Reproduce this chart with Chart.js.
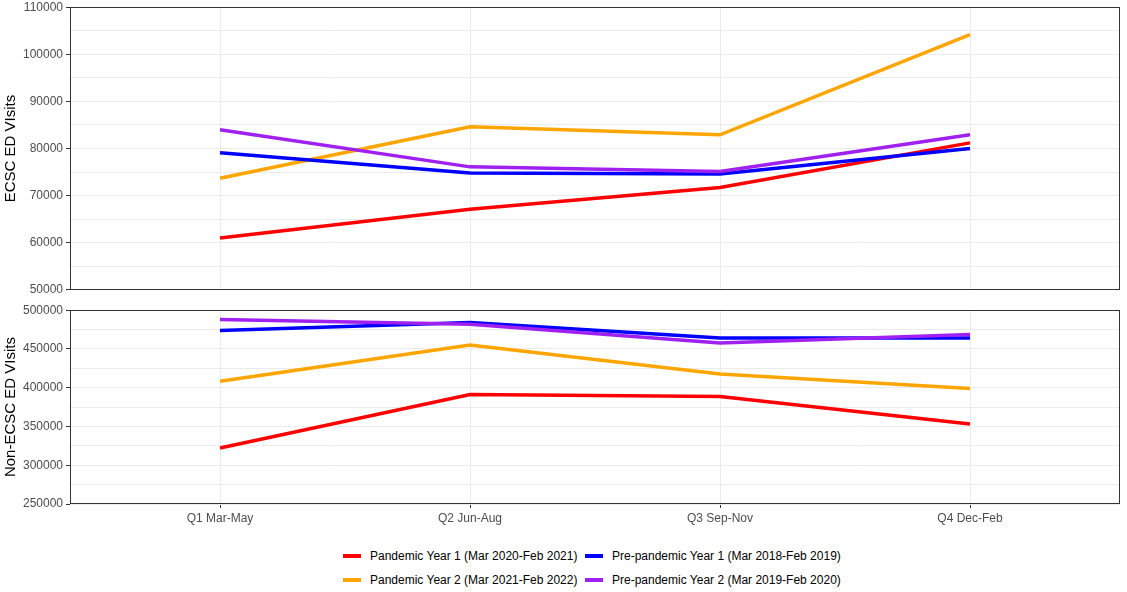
<!DOCTYPE html>
<html>
<head>
<meta charset="utf-8">
<script src="https://cdn.jsdelivr.net/npm/chart.js@4"></script>
<style>
  body { margin: 0; background: #fff; font-family: "Liberation Sans", Arial, sans-serif; }
  #wrap { position: relative; width: 1127px; height: 592px; overflow: hidden; }
  canvas { position: absolute; left: 0; }
  .leg { position: absolute; font-size: 12px; color: #000; white-space: nowrap; line-height: 14px; }
  .leg span.sw { display: inline-block; width: 18px; height: 4px; vertical-align: middle; margin-right: 9px; position: relative; top: -1px; }
</style>
</head>
<body>
<div id="wrap">
  <canvas id="top-chart" width="1127" height="303" style="top:-3px"></canvas>
  <canvas id="bottom-chart" width="1127" height="240" style="top:300px"></canvas>
  <div id="legend"></div>
</div>
<script>
// 季度标签
const quarters = ['Q1 Mar-May', 'Q2 Jun-Aug', 'Q3 Sep-Nov', 'Q4 Dec-Feb'];
const seriesNames = [
  'Pandemic Year 1 (Mar 2020-Feb 2021)',
  'Pandemic Year 2 (Mar 2021-Feb 2022)',
  'Pre-pandemic Year 1 (Mar 2018-Feb 2019)',
  'Pre-pandemic Year 2 (Mar 2019-Feb 2020)'
];
const seriesColors = ['#ff0000', '#ffa500', '#0000ff', '#a020f0'];

// ECSC ED visits
const ecscPandemic1 = [61000, 67100, 71700, 81200];
const ecscPandemic2 = [73700, 84600, 82900, 104200];
const ecscPre1 = [79100, 74800, 74600, 80000];
const ecscPre2 = [84000, 76100, 75100, 82900];

// Non-ECSC ED visits
const nonPandemic1 = [322300, 391200, 388700, 353100];
const nonPandemic2 = [408300, 455000, 417800, 398900];
const nonPre1 = [473800, 484100, 464000, 464000];
const nonPre2 = [487900, 482000, 457600, 468700];

const topTicks = [50000, 60000, 70000, 80000, 90000, 100000, 110000];
const bottomTicks = [250000, 300000, 350000, 400000, 450000, 500000];

// 面板边框
const panelBorder = {
  id: 'panelBorder',
  afterDraw(chart) {
    const a = chart.chartArea;
    const ctx = chart.ctx;
    ctx.save();
    ctx.strokeStyle = '#333333';
    ctx.lineWidth = 1;
    ctx.strokeRect(Math.round(a.left) + 0.5, Math.round(a.top) + 0.5,
      Math.round(a.right - a.left) - 1, Math.round(a.bottom - a.top) - 1);
    ctx.restore();
  }
};

function makeDatasets(groups) {
  // 紫色画在最上面 -> 放在数组最前
  const order = [3, 2, 1, 0];
  return order.map(i => ({
    label: seriesNames[i],
    data: groups[i].map((v, k) => ({ x: k, y: v })),
    borderColor: seriesColors[i],
    backgroundColor: seriesColors[i],
    borderWidth: 3.5,
    pointRadius: 0,
    tension: 0,
    fill: false
  }));
}

function makeOptions(cfg) {
  return {
    responsive: false,
    animation: false,
    layout: { padding: cfg.padding },
    plugins: { legend: { display: false }, tooltip: { enabled: false } },
    scales: {
      x: {
        type: 'linear',
        min: -0.6,
        max: 3.6,
        afterBuildTicks: s => { s.ticks = quarters.map((q, i) => ({ value: i })); },
        afterFit: s => { s.height = cfg.xHeight; },
        border: { display: false },
        grid: {
          color: '#ebebeb',
          lineWidth: 1,
          drawTicks: cfg.showX,
          tickLength: 4,
          tickColor: '#333333'
        },
        ticks: {
          display: cfg.showX,
          padding: 3,
          color: '#4d4d4d',
          font: { family: '"Liberation Sans", Arial, sans-serif', size: 12 },
          maxRotation: 0,
          callback: v => quarters[v]
        }
      },
      y: {
        min: cfg.min,
        max: cfg.max,
        afterBuildTicks: s => {
          const t = [];
          for (let v = cfg.min; v <= cfg.max; v += cfg.minor) t.push({ value: v });
          s.ticks = t;
        },
        afterFit: s => { s.width = 70; },
        border: { display: false },
        grid: {
          color: '#ebebeb',
          lineWidth: 1,
          tickLength: 4,
          tickColor: c => cfg.labels.includes(c.tick.value) ? '#333333' : 'rgba(0,0,0,0)'
        },
        ticks: {
          padding: 3,
          color: '#4d4d4d',
          font: { family: '"Liberation Sans", Arial, sans-serif', size: 12 },
          callback: v => cfg.labels.includes(v) ? String(v) : ''
        },
        title: {
          display: true,
          text: cfg.title,
          color: '#000',
          padding: { top: 2, bottom: 0 },
          font: { family: '"Liberation Sans", Arial, sans-serif', size: 15 }
        }
      }
    }
  };
}

new Chart(document.getElementById('top-chart').getContext('2d'), {
  type: 'line',
  data: { datasets: makeDatasets([ecscPandemic1, ecscPandemic2, ecscPre1, ecscPre2]) },
  options: makeOptions({
    padding: { top: 7, bottom: 9, left: 0, right: 7 },
    xHeight: 0, showX: false,
    min: 50000, max: 110000, minor: 5000, labels: topTicks,
    title: 'ECSC ED VIsits'
  }),
  plugins: [panelBorder]
});

new Chart(document.getElementById('bottom-chart').getContext('2d'), {
  type: 'line',
  data: { datasets: makeDatasets([nonPandemic1, nonPandemic2, nonPre1, nonPre2]) },
  options: makeOptions({
    padding: { top: 10, bottom: 8, left: 0, right: 7 },
    xHeight: 28, showX: true,
    min: 250000, max: 500000, minor: 25000, labels: bottomTicks,
    title: 'Non-ECSC ED VIsits'
  }),
  plugins: [panelBorder]
});

// 图例 (两列两行)
const legendPos = [[343, 549], [343, 573], [585, 549], [585, 573]];
const legend = document.getElementById('legend');
seriesNames.forEach((name, i) => {
  const d = document.createElement('div');
  d.className = 'leg';
  d.style.left = legendPos[i][0] + 'px';
  d.style.top = legendPos[i][1] + 'px';
  d.innerHTML = '<span class="sw" style="background:' + seriesColors[i] + '"></span>' + name;
  legend.appendChild(d);
});
</script>
</body>
</html>
